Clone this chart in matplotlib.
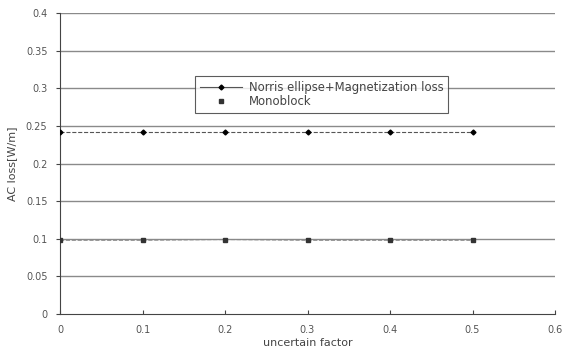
import matplotlib
matplotlib.use("Agg")
import matplotlib.pyplot as plt
from matplotlib.lines import Line2D

x = [0, 0.1, 0.2, 0.3, 0.4, 0.5]
norris = [0.242, 0.242, 0.242, 0.242, 0.242, 0.242]
mono = [0.098, 0.098, 0.099, 0.098, 0.098, 0.098]
yticks = [0, 0.05, 0.1, 0.15, 0.2, 0.25, 0.3, 0.35, 0.4]
ylabels = ["0", "0.05", "0.1", "0.15", "0.2", "0.25", "0.3", "0.35", "0.4"]
xticks = [0, 0.1, 0.2, 0.3, 0.4, 0.5, 0.6]
xlabels = ["0", "0.1", "0.2", "0.3", "0.4", "0.5", "0.6"]

fig = plt.figure(figsize=(5.68, 3.51), dpi=100)
ax = fig.add_axes([60/568, 37/351, 495/568, 301/351])
ax.set_xlim(0, 0.6)
ax.set_ylim(0, 0.4)

for yv in yticks[1:]:
    ax.axhline(yv, color="#8a8a8a", lw=1.0, zorder=1)

ax.plot(x, norris, color="#555555", lw=0.8, ls="--", marker="D", ms=2.5,
        mfc="black", mec="black", zorder=3)
ax.plot(x, mono, color="#888888", lw=0.8, ls="--", marker="s", ms=3,
        mfc="#333333", mec="#333333", zorder=3)

for s in ["top", "right"]:
    ax.spines[s].set_visible(False)
ax.spines["left"].set_color("#444444")
ax.spines["bottom"].set_color("#444444")

ax.set_yticks(yticks)
ax.set_yticklabels(ylabels)
ax.set_xticks(xticks)
ax.set_xticklabels(xlabels)
ax.tick_params(axis="both", labelsize=7, colors="#444444", labelcolor="#555555", length=3)
ax.tick_params(axis="x", direction="in", pad=8)
ax.tick_params(axis="y", direction="out", pad=6)

ax.set_xlabel("uncertain factor", fontsize=8, color="#444444", labelpad=2)
ax.set_ylabel("AC loss[W/m]", fontsize=8, color="#444444", labelpad=6)

handles = [
    Line2D([], [], color="#555555", lw=0.8, marker="D", ms=2.5, mfc="black", mec="black"),
    Line2D([], [], color="none", lw=0, marker="s", ms=3, mfc="#333333", mec="#333333"),
]
labels = ["Norris ellipse+Magnetization loss", "Monoblock"]
leg = ax.legend(handles, labels, loc="upper left", bbox_to_anchor=(135/495, 1 - 63/301),
                fontsize=8.4, frameon=True, fancybox=False, edgecolor="#333333",
                borderpad=0.4, handlelength=3.6, handletextpad=0.6, labelspacing=0.15,
                borderaxespad=0)
leg.get_frame().set_linewidth(0.8)
for t in leg.get_texts():
    t.set_color("#444444")

fig.savefig("out.png", dpi=100)
